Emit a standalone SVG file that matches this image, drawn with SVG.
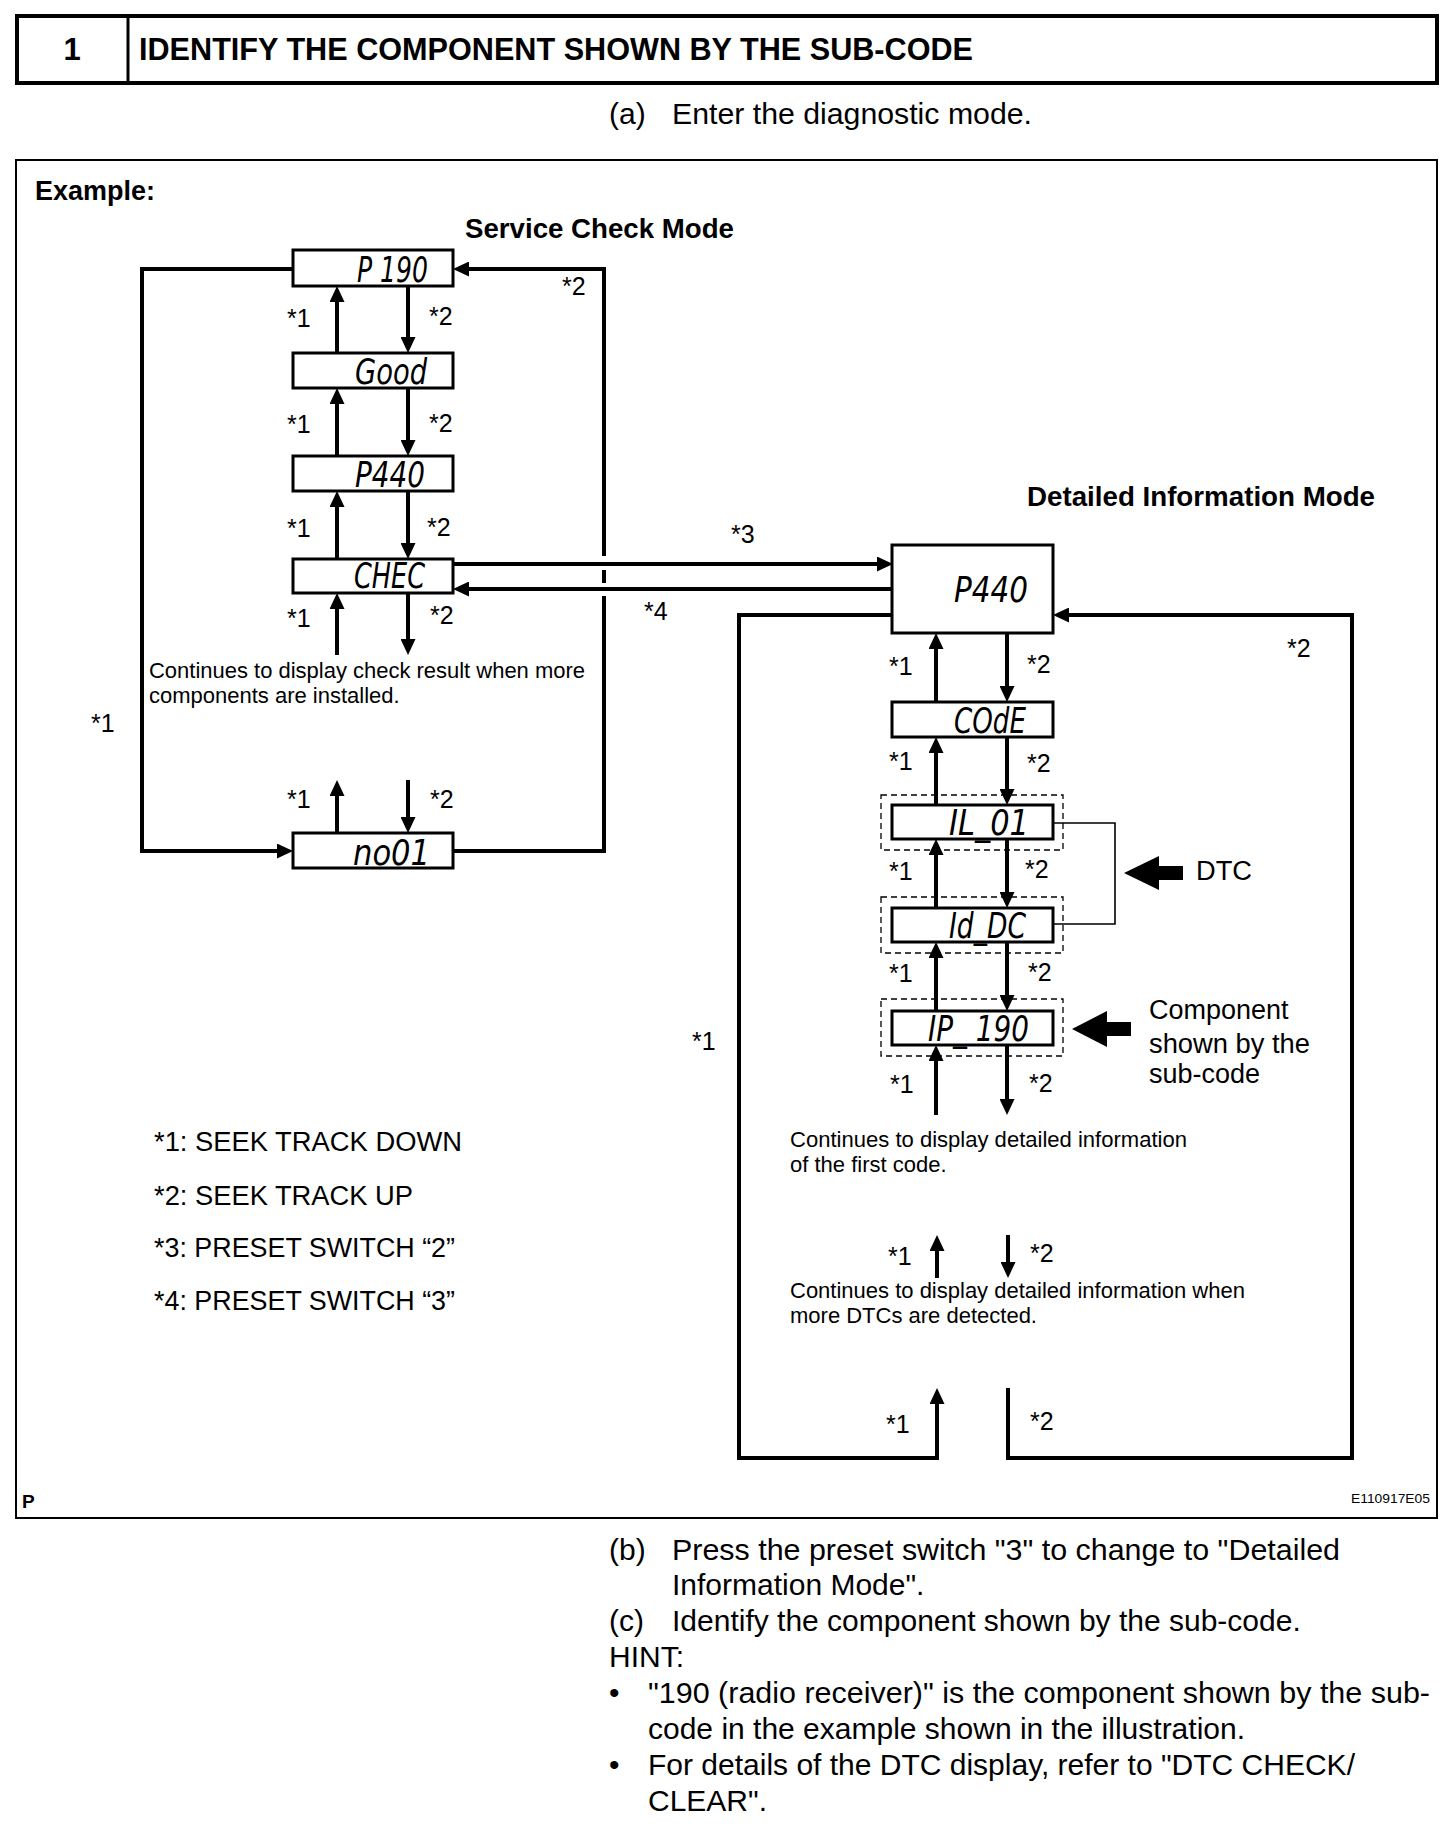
<svg xmlns="http://www.w3.org/2000/svg" width="1456" height="1834" viewBox="0 0 1456 1834">
<defs>
<marker id="ah" viewBox="0 0 16 15" markerWidth="16" markerHeight="15" refX="4" refY="7.5" markerUnits="userSpaceOnUse" orient="auto"><path d="M0,0 L16,7.5 L0,15 z" fill="#000"/></marker>
</defs>
<style>
text{font-family:"Liberation Sans",Arial,sans-serif;fill:#000}
.b{font-weight:bold}
.t30{font-size:30px}
.t27{font-size:27px}
.t22{font-size:22px}
.lab{font-size:25px}
.lcd{font-family:"DejaVu Sans",sans-serif;font-style:italic;font-size:35px;text-anchor:end}
.box{fill:#fff;stroke:#000;stroke-width:3}
.dash{fill:none;stroke:#000;stroke-width:1.3;stroke-dasharray:6 4}
.c{fill:none;stroke:#000;stroke-width:4}
.thin{fill:none;stroke:#000;stroke-width:1.6}
</style>
<rect width="1456" height="1834" fill="#fff"/>

<g id="header">
<rect x="17" y="16" width="1420" height="67" fill="none" stroke="#000" stroke-width="4"/>
<line x1="128" y1="16" x2="128" y2="83" stroke="#000" stroke-width="3"/>
<text x="72" y="60" class="b" font-size="31" text-anchor="middle">1</text>
<text x="139" y="60" class="b" font-size="31" textLength="834" lengthAdjust="spacingAndGlyphs">IDENTIFY THE COMPONENT SHOWN BY THE SUB-CODE</text>
<text x="609" y="124" class="t30">(a)</text>
<text x="672" y="124" class="t30" textLength="360" lengthAdjust="spacingAndGlyphs">Enter the diagnostic mode.</text>
</g>

<g id="frame">
<rect x="16" y="160" width="1421" height="1358" fill="none" stroke="#000" stroke-width="2"/>
<text x="35" y="200" class="b" font-size="27" textLength="120" lengthAdjust="spacingAndGlyphs">Example:</text>
<text x="465" y="238" class="b" font-size="28" textLength="269" lengthAdjust="spacingAndGlyphs">Service Check Mode</text>
<text x="1027" y="506" class="b" font-size="28" textLength="348" lengthAdjust="spacingAndGlyphs">Detailed Information Mode</text>
<text x="22" y="1508" class="b" font-size="19">P</text>
<text x="1430" y="1503" font-size="13.5" text-anchor="end" textLength="79" lengthAdjust="spacingAndGlyphs">E110917E05</text>
</g>

<g id="connectors">
<path class="c" d="M337,353 V298" marker-end="url(#ah)"/>
<path class="c" d="M337,456 V400" marker-end="url(#ah)"/>
<path class="c" d="M337,559 V503" marker-end="url(#ah)"/>
<path class="c" d="M337,655 V605" marker-end="url(#ah)"/>
<path class="c" d="M337,833 V792" marker-end="url(#ah)"/>
<path class="c" d="M408,286 V341" marker-end="url(#ah)"/>
<path class="c" d="M408,388 V444" marker-end="url(#ah)"/>
<path class="c" d="M408,491 V547" marker-end="url(#ah)"/>
<path class="c" d="M408,593 V643" marker-end="url(#ah)"/>
<path class="c" d="M408,780 V821" marker-end="url(#ah)"/>
<path class="c" d="M293,269 H142 V851 H281" marker-end="url(#ah)"/>
<path class="c" d="M453,851 H604 V596 M604,583 V570 M604,556 V269 H465" marker-end="url(#ah)"/>
<path class="c" d="M453,564 H881" marker-end="url(#ah)"/>
<path class="c" d="M892,589 H465" marker-end="url(#ah)"/>
<path class="c" d="M936,702 V645" marker-end="url(#ah)"/>
<path class="c" d="M936,805 V749" marker-end="url(#ah)"/>
<path class="c" d="M936,908 V851" marker-end="url(#ah)"/>
<path class="c" d="M936,1011 V954" marker-end="url(#ah)"/>
<path class="c" d="M936,1115 V1057" marker-end="url(#ah)"/>
<path class="c" d="M937,1278 V1247" marker-end="url(#ah)"/>
<path class="c" d="M1007,633 V690" marker-end="url(#ah)"/>
<path class="c" d="M1007,737 V793" marker-end="url(#ah)"/>
<path class="c" d="M1007,839 V896" marker-end="url(#ah)"/>
<path class="c" d="M1007,942 V999" marker-end="url(#ah)"/>
<path class="c" d="M1007,1045 V1103" marker-end="url(#ah)"/>
<path class="c" d="M1008,1235 V1266" marker-end="url(#ah)"/>
<path class="c" d="M892,615 H739 V1458 H937 V1400" marker-end="url(#ah)"/>
<path class="c" d="M1008,1388 V1458 H1352 V615 H1065" marker-end="url(#ah)"/>
<path class="thin" d="M1053,823 H1115 V924 H1053"/>
<polygon points="1124,873 1159,856 1159,866 1183,866 1183,880 1159,880 1159,890" fill="#000"/>
<polygon points="1072,1029 1107,1011 1107,1022 1131,1022 1131,1036 1107,1036 1107,1047" fill="#000"/>
</g>

<g id="node-p190"><rect class="box" x="293" y="250" width="160" height="36"/><text class="lcd" x="428" y="282" textLength="71" lengthAdjust="spacingAndGlyphs">P 190</text></g>
<g id="node-good"><rect class="box" x="293" y="353" width="160" height="35"/><text class="lcd" x="427" y="384" textLength="72" lengthAdjust="spacingAndGlyphs">Good</text></g>
<g id="node-p440"><rect class="box" x="293" y="456" width="160" height="35"/><text class="lcd" x="425" y="487" textLength="70" lengthAdjust="spacingAndGlyphs">P440</text></g>
<g id="node-chec"><rect class="box" x="293" y="559" width="160" height="34"/><text class="lcd" x="425" y="588" textLength="71" lengthAdjust="spacingAndGlyphs">CHEC</text></g>
<g id="node-no01"><rect class="box" x="293" y="833" width="160" height="35"/><text class="lcd" x="430" y="865" textLength="77" lengthAdjust="spacingAndGlyphs">no01</text></g>

<g id="node-detail-p440"><rect class="box" x="892" y="545" width="161" height="88"/><text class="lcd" x="1028" y="602" textLength="74" lengthAdjust="spacingAndGlyphs">P440</text></g>
<g id="node-code"><rect class="box" x="892" y="702" width="161" height="35"/><text class="lcd" x="1026" y="733" textLength="72" lengthAdjust="spacingAndGlyphs">COdE</text></g>
<g id="node-il01"><rect class="dash" x="881" y="795" width="182" height="55"/><rect class="box" x="892" y="805" width="161" height="34"/><text class="lcd" x="1029" y="835" textLength="80" lengthAdjust="spacingAndGlyphs">IL_01</text></g>
<g id="node-iddc"><rect class="dash" x="881" y="897" width="182" height="56"/><rect class="box" x="892" y="908" width="161" height="34"/><text class="lcd" x="1026" y="938" textLength="77" lengthAdjust="spacingAndGlyphs">Id_DC</text></g>
<g id="node-ip190"><rect class="dash" x="881" y="999" width="182" height="57"/><rect class="box" x="892" y="1011" width="161" height="34"/><text class="lcd" x="1029" y="1041" textLength="101" lengthAdjust="spacingAndGlyphs">IP_ 190</text></g>

<g id="labels">
<text class="lab" x="287" y="327">*1</text><text class="lab" x="429" y="325">*2</text>
<text class="lab" x="287" y="433">*1</text><text class="lab" x="429" y="432">*2</text>
<text class="lab" x="287" y="537">*1</text><text class="lab" x="427" y="536">*2</text>
<text class="lab" x="287" y="627">*1</text><text class="lab" x="430" y="624">*2</text>
<text class="lab" x="287" y="808">*1</text><text class="lab" x="430" y="808">*2</text>
<text class="lab" x="562" y="295">*2</text>
<text class="lab" x="91" y="732">*1</text>
<text class="lab" x="731" y="543">*3</text>
<text class="lab" x="644" y="620">*4</text>
<text class="lab" x="889" y="675">*1</text><text class="lab" x="1027" y="673">*2</text>
<text class="lab" x="889" y="770">*1</text><text class="lab" x="1027" y="772">*2</text>
<text class="lab" x="889" y="880">*1</text><text class="lab" x="1025" y="878">*2</text>
<text class="lab" x="889" y="982">*1</text><text class="lab" x="1028" y="981">*2</text>
<text class="lab" x="890" y="1093">*1</text><text class="lab" x="1029" y="1092">*2</text>
<text class="lab" x="888" y="1265">*1</text><text class="lab" x="1030" y="1262">*2</text>
<text class="lab" x="886" y="1433">*1</text><text class="lab" x="1030" y="1430">*2</text>
<text class="lab" x="1287" y="657">*2</text>
<text class="lab" x="692" y="1050">*1</text>
<text class="t27" x="1196" y="880" textLength="56" lengthAdjust="spacingAndGlyphs">DTC</text>
<text class="t27" x="1149" y="1019">Component</text>
<text class="t27" x="1149" y="1053" textLength="161" lengthAdjust="spacingAndGlyphs">shown by the</text>
<text class="t27" x="1149" y="1083">sub-code</text>
</g>

<g id="notes">
<text class="t22" x="149" y="678" textLength="436" lengthAdjust="spacingAndGlyphs">Continues to display check result when more</text>
<text class="t22" x="149" y="703">components are installed.</text>
<text class="t22" x="790" y="1147" textLength="397" lengthAdjust="spacingAndGlyphs">Continues to display detailed information</text>
<text class="t22" x="790" y="1172">of the first code.</text>
<text class="t22" x="790" y="1298">Continues to display detailed information when</text>
<text class="t22" x="790" y="1323">more DTCs are detected.</text>
<text class="t27" x="154" y="1151" textLength="308" lengthAdjust="spacingAndGlyphs">*1: SEEK TRACK DOWN</text>
<text class="t27" x="154" y="1205" textLength="259" lengthAdjust="spacingAndGlyphs">*2: SEEK TRACK UP</text>
<text class="t27" x="154" y="1257" textLength="301" lengthAdjust="spacingAndGlyphs">*3: PRESET SWITCH “2”</text>
<text class="t27" x="154" y="1310" textLength="301" lengthAdjust="spacingAndGlyphs">*4: PRESET SWITCH “3”</text>
</g>

<g id="body-text">
<text class="t30" x="609" y="1560">(b)</text>
<text class="t30" x="672" y="1560" textLength="668" lengthAdjust="spacingAndGlyphs">Press the preset switch "3" to change to "Detailed</text>
<text class="t30" x="672" y="1595">Information Mode".</text>
<text class="t30" x="609" y="1631">(c)</text>
<text class="t30" x="672" y="1631">Identify the component shown by the sub-code.</text>
<text class="t30" x="609" y="1667">HINT:</text>
<text class="t30" x="609" y="1703">•</text>
<text class="t30" x="648" y="1703" textLength="782" lengthAdjust="spacingAndGlyphs">"190 (radio receiver)" is the component shown by the sub-</text>
<text class="t30" x="648" y="1739">code in the example shown in the illustration.</text>
<text class="t30" x="609" y="1775">•</text>
<text class="t30" x="648" y="1775">For details of the DTC display, refer to "DTC CHECK/</text>
<text class="t30" x="648" y="1811">CLEAR".</text>
</g>
</svg>
